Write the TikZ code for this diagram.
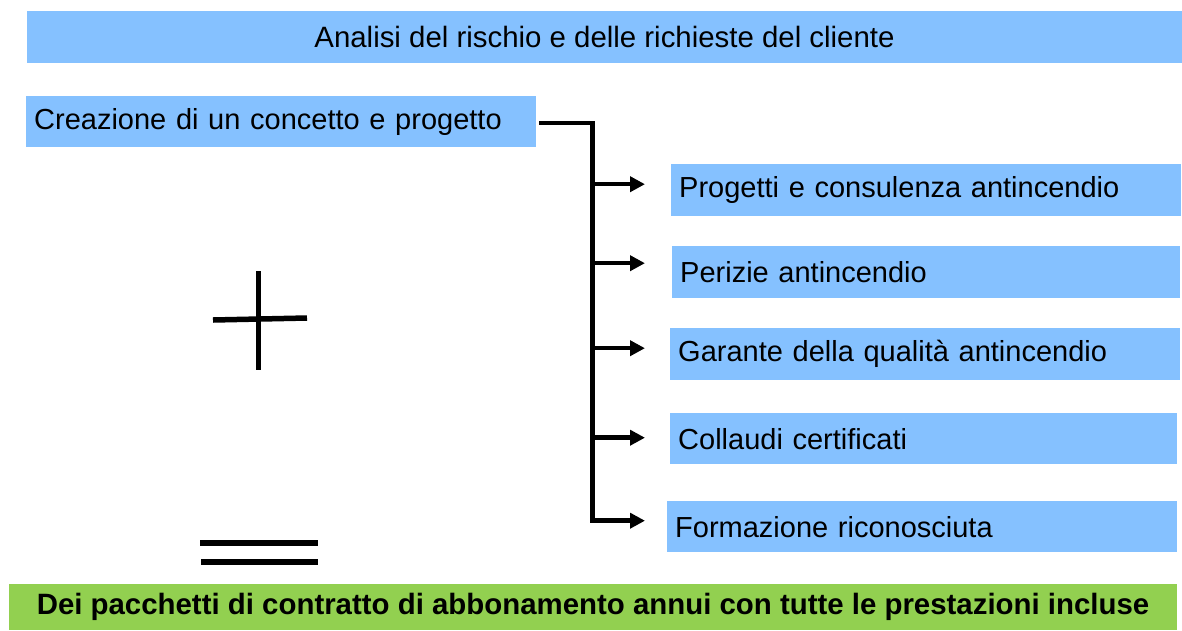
\documentclass[tikz,border=0pt]{standalone}
\usepackage{fontspec}
\setmainfont{Liberation Sans}
\definecolor{boxblue}{RGB}{133, 193, 255}
\definecolor{bargreen}{RGB}{146, 208, 80}
\usetikzlibrary{arrows.meta, positioning, calc}

\tikzset{
  bluebox/.style={fill=boxblue, anchor=north west, inner xsep=8pt, inner ysep=0pt, align=left, font=\fontsize{29}{34}\selectfont},
  link/.style={line width=4.5pt},
  tip/.style={-{Triangle[length=15pt, width=15pt]}},
  sign/.style={line width=5.5pt}
}

\begin{document}
\begin{tikzpicture}[x=1pt, y=-1pt]
  \useasboundingbox (0,0) rectangle (1182,630);

  % Header
  \node[fill=boxblue, minimum width=1155, minimum height=52, inner sep=0pt, font=\fontsize{29.4}{34}\selectfont] (risk) at (604.5,37) {Analisi del rischio e delle richieste del cliente};

  % Concept
  \node[bluebox, text width=494, minimum height=51] (concept) at (26,96) {Creazione di un concetto e progetto};

  % Services
  \node[bluebox, text width=494, minimum height=52] (design) at (671,164) {Progetti e consulenza antincendio};
  \node[bluebox, text width=492, minimum height=52] (survey) at (672,246) {Perizie antincendio};
  \node[bluebox, text width=494, minimum height=52] (quality) at (670,328) {Garante della qualità antincendio};
  \node[bluebox, text width=491, minimum height=51] (tests) at (670,413) {Collaudi certificati};
  \node[bluebox, text width=494, minimum height=51] (training) at (667,501) {Formazione riconosciuta};

  % Tree
  \coordinate (split) at (592.5,123);
  \coordinate (tipcol) at (645,0);
  \foreach \b/\s in {design/6, survey/9, quality/6, tests/1, training/6}
    \coordinate (\b-in) at ([yshift=\s pt]\b.west);
  \draw[link, tip] ([xshift=3pt]concept.east |- split) -- (split) |- (tipcol |- training-in);
  \foreach \b in {design, survey, quality, tests}
    \draw[link, tip] (split |- \b-in) -- (tipcol |- \b-in);

  % Plus and equals
  \draw[sign] (258.5,271) -- (258.5,370);
  \draw[sign] (213,320) -- (307,318);
  \draw[sign] (200,543) -- (318,543);
  \draw[sign] (201,562) -- (318,562);

  % Footer
  \node[fill=bargreen, minimum width=1168, minimum height=46, inner sep=0pt, font=\fontsize{29.4}{34}\selectfont\bfseries] (plans) at (593,607) {Dei pacchetti di contratto di abbonamento annui con tutte le prestazioni incluse};
\end{tikzpicture}
\end{document}
